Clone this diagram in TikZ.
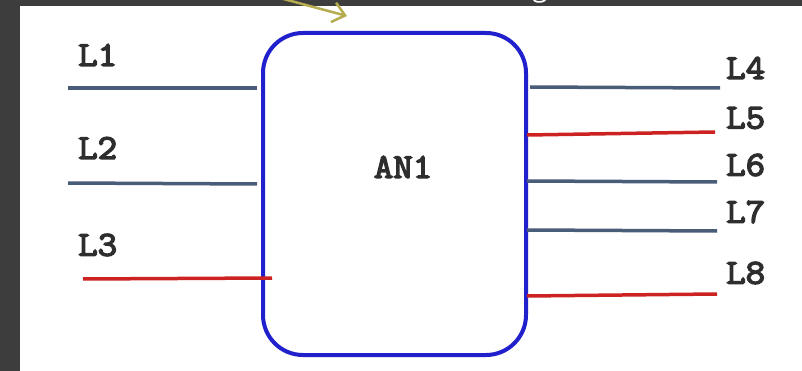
\documentclass[tikz,border=0pt]{standalone}
\usepackage{fontspec}
\setmainfont{Open Sans}
\setmonofont{Latin Modern Mono}[AutoFakeBold=4, FakeStretch=1.08]
\usetikzlibrary{arrows.meta, positioning}

\definecolor{framegray}{HTML}{3D3D3D}
\definecolor{unitblue}{HTML}{2020CC}
\definecolor{wireslate}{HTML}{4A5D78}
\definecolor{wirered}{HTML}{CC2222}
\definecolor{tagtext}{HTML}{2E2E2E}
\definecolor{pointerolive}{HTML}{B5AB4F}

\begin{document}
\begin{tikzpicture}[x=1pt, y=-1pt,
        unit/.style={draw=unitblue, line width=4pt, rounded corners=40pt, fill=white, minimum width=263pt, minimum height=322pt, inner sep=0pt},
        tag/.style={font=\fontsize{35}{35}\selectfont\ttfamily\bfseries, text=tagtext, inner sep=0pt, anchor=west},
        wire/.style={line width=3.5pt, draw=wireslate},
        hot/.style={line width=3.5pt, draw=wirered},
        pointer/.style={-{Straight Barb[length=12pt,width=20pt]}, line width=2.5pt, draw=pointerolive}
    ]
        \useasboundingbox (0,0) rectangle (802,371);
        \clip (0,0) rectangle (802,371);

        % frame and sheet
        \fill[framegray] (0,0) rectangle (802,371);
        \fill[white] (20,6) rectangle (802,371);

        % title remnant and pointer from above
        \node[anchor=base, text=white, font=\fontsize{28}{28}\selectfont, inner sep=0pt] (title) at (540,-3) {g};
        \coordinate (from) at (250,-10);
        \coordinate (to) at (347,16);
        \draw[pointer] (from) -- (to);

        % the unit
        \node[unit] (an1) at (394.5,194) {};
        \node[tag, anchor=center] (an1tag) at (403,167) {AN1};

        % line ends
        \coordinate (l1a) at (68,88);   \coordinate (l1b) at (257,88);
        \coordinate (l2a) at (68,183);  \coordinate (l2b) at (257,184);
        \coordinate (l3a) at (83,279);  \coordinate (l3b) at (272,278);
        \coordinate (l4a) at (530,87);  \coordinate (l4b) at (720,88);
        \coordinate (l5a) at (527,135); \coordinate (l5b) at (715,132);
        \coordinate (l6a) at (527,181); \coordinate (l6b) at (717,182);
        \coordinate (l7a) at (527,230); \coordinate (l7b) at (717,231);
        \coordinate (l8a) at (527,296); \coordinate (l8b) at (717,294);

        \draw[wire] (l1a) -- (l1b);
        \draw[wire] (l2a) -- (l2b);
        \draw[hot] (l3a) -- (l3b);
        \draw[wire] (l4a) -- (l4b);
        \draw[hot] (l5a) -- (l5b);
        \draw[wire] (l6a) -- (l6b);
        \draw[wire] (l7a) -- (l7b);
        \draw[hot] (l8a) -- (l8b);

        % labels
        \node[tag] (t1) at (78,55) {L1};
        \node[tag] (t2) at (78,148) {L2};
        \node[tag] (t3) at (78,245) {L3};
        \node[tag] (t4) at (726,68) {L4};
        \node[tag] (t5) at (726,118) {L5};
        \node[tag] (t6) at (726,165) {L6};
        \node[tag] (t7) at (726,212) {L7};
        \node[tag] (t8) at (726,273) {L8};
    \end{tikzpicture}
\end{document}
